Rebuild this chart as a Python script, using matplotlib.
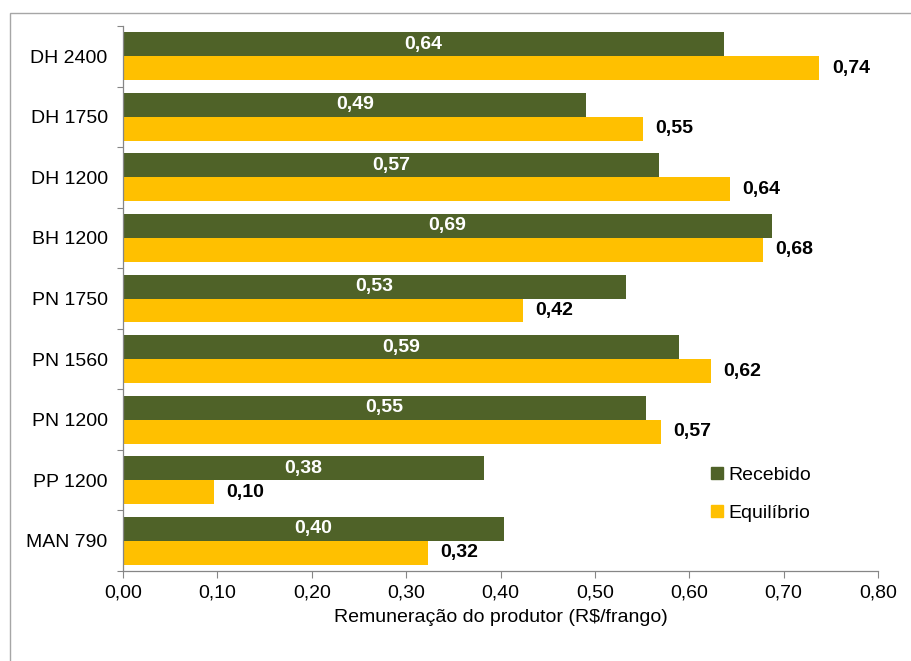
import numpy as np
import matplotlib
matplotlib.use("Agg")
from matplotlib import pyplot as plt
from matplotlib.lines import Line2D
from matplotlib.patches import Rectangle
from matplotlib.ticker import FuncFormatter, FixedLocator

plt.rcParams['font.family'] = ['Liberation Sans', 'DejaVu Sans']

# farm systems, top to bottom
categories = ["DH 2400", "DH 1750", "DH 1200", "BH 1200", "PN 1750",
              "PN 1560", "PN 1200", "PP 1200", "MAN 790"]
recebido = [0.637, 0.491, 0.568, 0.688, 0.533, 0.589, 0.554, 0.383, 0.404]
equilibrio = [0.738, 0.551, 0.643, 0.678, 0.424, 0.623, 0.570, 0.096, 0.323]
xticks = [0.0, 0.1, 0.2, 0.3, 0.4, 0.5, 0.6, 0.7, 0.8]

GREEN = "#4F6228"
YELLOW = "#FFC000"
GRAY = "#868686"

def br(v):
    # brazilian decimal comma
    return "{:.2f}".format(v).replace(".", ",")

fig = plt.figure(figsize=(9.11, 6.61), dpi=100)
ax = fig.add_axes([123/911, 90/661, 755/911, 545/661])

# outer chart frame
fig.patches.append(Rectangle((10/911, -0.1), 1.2, 1 - 13/661 + 0.1,
                             transform=fig.transFigure, fill=False,
                             edgecolor="#a6a6a6", linewidth=1.0, clip_on=False))

y = np.arange(len(categories))
h = 0.395
ax.barh(y - h/2, recebido, height=h, color=GREEN, label="Recebido")
ax.barh(y + h/2, equilibrio, height=h, color=YELLOW, label="Equilíbrio")

for yi, r, e in zip(y, recebido, equilibrio):
    ax.text(r/2, yi - h/2, br(r), ha="center", va="center", color="white",
            fontsize=14, fontweight="bold")
    ax.annotate(br(e), (e, yi + h/2), xytext=(9, 0), textcoords="offset points",
                ha="left", va="center", color="black", fontsize=14, fontweight="bold")

ax.set_xlim(0, 0.8)
ax.set_ylim(len(categories) - 0.5, -0.5)
ax.set_xticks(xticks)
ax.xaxis.set_major_formatter(FuncFormatter(lambda v, p: br(v)))
ax.set_yticks(y)
ax.set_yticklabels(categories)
ax.yaxis.set_minor_locator(FixedLocator(np.arange(-0.5, len(categories), 1.0)))

ax.tick_params(axis="y", which="major", length=0, pad=11, labelsize=14)
ax.tick_params(axis="y", which="minor", length=4, color=GRAY, width=0.8)
ax.tick_params(axis="x", length=5, color=GRAY, width=0.8, labelsize=14, pad=5)

for s in ["top", "right"]:
    ax.spines[s].set_visible(False)
for s in ["left", "bottom"]:
    ax.spines[s].set_color(GRAY)
    ax.spines[s].set_linewidth(0.9)

ax.set_xlabel("Remuneração do produtor (R$/frango)", fontsize=14, labelpad=5)

handles = [Line2D([], [], marker="s", linestyle="none", markersize=8, color=GREEN),
           Line2D([], [], marker="s", linestyle="none", markersize=8, color=YELLOW)]
ax.legend(handles, ["Recebido", "Equilíbrio"], loc="upper left",
          bbox_to_anchor=(0.765, 0.21), frameon=False, fontsize=14,
          handlelength=0.7, handletextpad=0.25, labelspacing=1.05, borderpad=0)

fig.savefig("out.png", dpi=100)
